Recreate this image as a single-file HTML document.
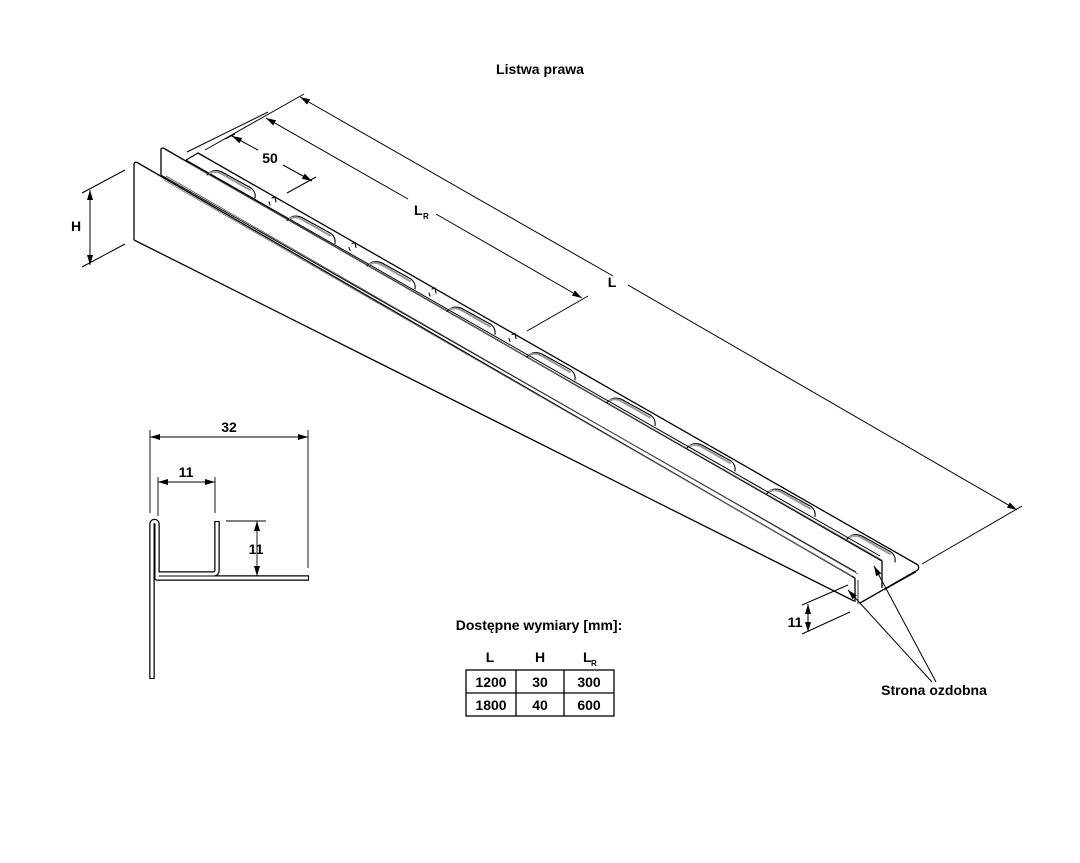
<!DOCTYPE html>
<html><head><meta charset="utf-8"><style>
html,body{margin:0;padding:0;background:#fff;}
svg{display:block;font-family:"Liberation Sans",Arial,sans-serif;font-weight:bold;}
</style></head><body>
<svg width="1080" height="863" viewBox="0 0 1080 863" xmlns="http://www.w3.org/2000/svg">
<defs>
<marker id="a" viewBox="0 0 10 6" refX="10" refY="3" markerWidth="10" markerHeight="6" orient="auto-start-reverse" markerUnits="userSpaceOnUse"><path d="M0,0L10,3L0,6z" fill="#000"/></marker>
</defs>
<text x="540" y="74" font-size="14" text-anchor="middle">Listwa prawa</text>

<g fill="none" stroke="#000" stroke-width="1.3" stroke-linejoin="round">
  <path d="M134,240 L134,164 Q135,161 138,163 L855,578"/>
  <path d="M134,240 L854,601"/>
  <path d="M855,578 L855,602"/>
  <path d="M161,175 L161,149 Q162,147 165,149 L882,561 L882,588"/>
  <path d="M161,175 L856,572" stroke-width="1"/>
  <path d="M166,176 L858,574" stroke-width="0.8" stroke="#555"/>
  <path d="M164,180 L852,576" stroke-width="0.8" stroke="#777"/>
  <path d="M186,160 L198,153 L918,565 Q920,569 916,571 L860,603"/>
  <path d="M186,160 L880,556" stroke-width="1"/>
  <path d="M190,164 L882,560" stroke-width="0.8" stroke="#666"/>
  <path d="M884,590 L916,572" stroke-width="0.8"/>
  <path d="M858,604 L858,580" stroke-width="0.8"/>
</g>
<g fill="none" stroke="#000" stroke-width="1.1" stroke-linecap="round">
  <g id="s"><path d="M207,175 Q213,168 222,172 L251,188 Q256,192 255,198"/><path d="M210,173 Q215,170 222,174 L250,190" stroke="#999" stroke-width="2"/></g>
  <use href="#s" transform="translate(80,45.5)"/>
  <use href="#s" transform="translate(160,91)"/>
  <use href="#s" transform="translate(240,136.5)"/>
  <use href="#s" transform="translate(320,182)"/>
  <use href="#s" transform="translate(400,227.5)"/>
  <use href="#s" transform="translate(480,273)"/>
  <use href="#s" transform="translate(560,318.5)"/>
  <use href="#s" transform="translate(640,364)"/>
  <g id="n"><path d="M272,198 L275,197 L276,202" /><path d="M269,202 L270,205"/></g>
  <use href="#n" transform="translate(80,45.5)"/>
  <use href="#n" transform="translate(160,91)"/>
  <use href="#n" transform="translate(240,136.5)"/>
</g>

<g fill="none" stroke="#000" stroke-width="1">
  <path d="M205,150 L304,94"/>
  <path d="M300,97 L613,276" marker-start="url(#a)"/>
  <path d="M628,285 L1017,510" marker-end="url(#a)"/>
  <path d="M922,564 L1022,506"/>
  <path d="M187,152 L268,112"/>
  <path d="M266,118 L408,199" marker-start="url(#a)"/>
  <path d="M436,214 L582,298" marker-end="url(#a)"/>
  <path d="M527,331 L588,296"/>
  <path d="M232,136 L258,150" marker-start="url(#a)"/>
  <path d="M283,165 L312,181" marker-end="url(#a)"/>
  <path d="M287,193 L316,177"/>
  <path d="M225,139 L235,134"/>
  <path d="M82,193 L125,170"/>
  <path d="M82,267 L125,244"/>
  <path d="M90,190 L90,265" marker-start="url(#a)" marker-end="url(#a)"/>
  <path d="M802,605 L848,585"/>
  <path d="M802,634 L850,612"/>
  <path d="M808,604 L808,632" marker-start="url(#a)" marker-end="url(#a)"/>
  <path d="M932,682 L848,590" marker-end="url(#a)"/>
  <path d="M936,682 L874,566" marker-end="url(#a)"/>
</g>
<text x="270" y="163" font-size="14" text-anchor="middle">50</text>
<text x="414" y="215" font-size="14">L</text><text x="423" y="219" font-size="8">R</text>
<text x="612" y="287" font-size="14" text-anchor="middle">L</text>
<text x="76" y="231" font-size="14" text-anchor="middle">H</text>
<text x="795" y="627" font-size="14" text-anchor="middle">11</text>
<text x="934" y="695" font-size="14" text-anchor="middle">Strona ozdobna</text>

<!-- cross-section (double-stroke strips) -->
<g fill="none" stroke-linejoin="round">
  <path d="M152,679 L152,524 A2.5,2.5 0 0 1 157,524 L157,578 L309,578" stroke="#000" stroke-width="5.5"/>
  <path d="M158,574 L213,574 Q217,574 217,570 L217,521" stroke="#000" stroke-width="5.5"/>
  <path d="M152,678 L152,524 A2.5,2.5 0 0 1 157,524 L157,578 L308,578" stroke="#fff" stroke-width="3"/>
  <path d="M158,574 L213,574 Q217,574 217,570 L217,522" stroke="#fff" stroke-width="3"/>
</g>
<g fill="none" stroke="#000" stroke-width="0.9">
  <path d="M150,430 L150,513"/>
  <path d="M308,430 L308,568"/>
  <path d="M150,437 L308,437" marker-start="url(#a)" marker-end="url(#a)"/>
  <path d="M158,477 L158,516"/>
  <path d="M215,477 L215,513"/>
  <path d="M158,482 L215,482" marker-start="url(#a)" marker-end="url(#a)"/>
  <path d="M226,521 L266,521"/>
  <path d="M257,521 L257,576" marker-start="url(#a)" marker-end="url(#a)"/>
</g>
<text x="229" y="432" font-size="14" text-anchor="middle">32</text>
<text x="186" y="477" font-size="14" text-anchor="middle">11</text>
<text x="256" y="554" font-size="14" text-anchor="middle">11</text>

<text x="539" y="630" font-size="14" text-anchor="middle">Dostępne wymiary [mm]:</text>
<text x="490" y="662" font-size="14" text-anchor="middle">L</text>
<text x="540" y="662" font-size="14" text-anchor="middle">H</text>
<text x="583" y="662" font-size="14">L</text><text x="591" y="666" font-size="8">R</text>
<g fill="none" stroke="#000" stroke-width="1.3">
  <rect x="466" y="670" width="148" height="46"/>
  <path d="M466,693 L614,693 M516,670 L516,716 M564,670 L564,716"/>
</g>
<g font-size="14" text-anchor="middle">
<text x="491" y="687">1200</text><text x="540" y="687">30</text><text x="589" y="687">300</text>
<text x="491" y="710">1800</text><text x="540" y="710">40</text><text x="589" y="710">600</text>
</g>
</svg>
</body></html>
